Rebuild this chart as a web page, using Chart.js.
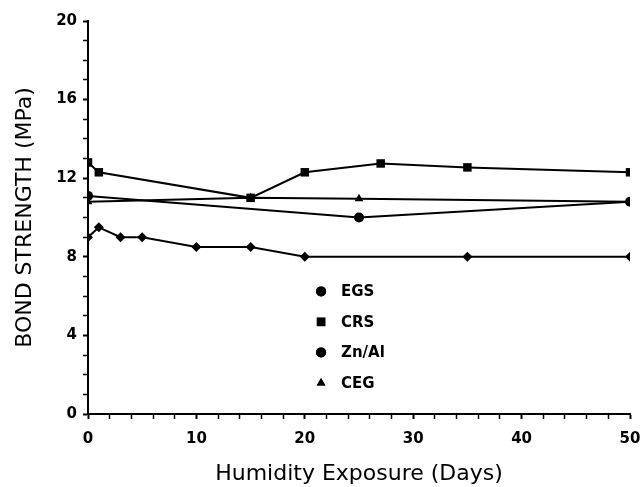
<!DOCTYPE html>
<html>
<head>
<meta charset="utf-8">
<script src="https://cdn.jsdelivr.net/npm/chart.js@4"></script>
<style>
  html, body { margin: 0; padding: 0; background: #fff; }
  #wrap { width: 644px; height: 487px; }
</style>
</head>
<body>
<div id="wrap"><canvas id="bondChart" width="644" height="487"></canvas></div>
<script>
// days of exposure and bond strength (MPa)
const egsDays = [0, 1, 3, 5, 10, 15, 20, 35, 50];
const egsValues = [9.0, 9.5, 9.0, 9.0, 8.5, 8.5, 8.0, 8.0, 8.0];
const crsDays = [0, 1, 15, 20, 27, 35, 50];
const crsValues = [12.8, 12.3, 11.0, 12.3, 12.75, 12.55, 12.3];
const znalDays = [0, 25, 50];
const znalValues = [11.1, 10.0, 10.8];
const cegDays = [0, 15, 25, 50];
const cegValues = [10.8, 11.0, 10.95, 10.8];

const seriesNames = ["EGS", "CRS", "Zn/Al", "CEG"];
const legendStyles = ["circle", "rect", "circle", "triangle"];

function toPoints(xs, ys) {
  return xs.map((x, i) => ({ x, y: ys[i] }));
}

function makeSet(label, xs, ys, style, radius) {
  return {
    label,
    data: toPoints(xs, ys),
    borderColor: "#000",
    backgroundColor: "#000",
    borderWidth: 2,
    pointStyle: style,
    pointRadius: radius,
    pointBorderWidth: 0,
    tension: 0,
  };
}

// legend sits inside the plot, drawn by hand
const insideLegend = {
  id: "insideLegend",
  afterDraw(chart) {
    const { ctx, chartArea } = chart;
    const w = chartArea.right - chartArea.left;
    const h = chartArea.bottom - chartArea.top;
    const mx = chartArea.left + w * 0.43;
    const y0 = chartArea.top + h * 0.688;
    ctx.save();
    ctx.fillStyle = "#000";
    ctx.strokeStyle = "#000";
    ctx.font = "bold 15px 'DejaVu Sans'";
    ctx.textBaseline = "middle";
    seriesNames.forEach((name, i) => {
      const y = y0 + i * 30.5;
      const r = legendStyles[i] === "rect" ? 6 : 5;
      Chart.helpers.drawPoint(ctx, { pointStyle: legendStyles[i], radius: r, borderWidth: 0 }, mx, y);
      ctx.fill();
      ctx.fillText(name, mx + 20, y + 1);
    });
    ctx.restore();
  }
};

const tickFont = { family: "DejaVu Sans", size: 15, weight: "bold" };
const titleFont = { family: "DejaVu Sans", size: 22 };

new Chart(document.getElementById("bondChart"), {
  type: "line",
  data: {
    datasets: [
      makeSet("EGS", egsDays, egsValues, "rectRot", 5),
      makeSet("CRS", crsDays, crsValues, "rect", 6),
      makeSet("Zn/Al", znalDays, znalValues, "circle", 5),
      makeSet("CEG", cegDays, cegValues, "triangle", 5),
    ],
  },
  options: {
    responsive: false,
    animation: false,
    layout: { padding: { left: 0, right: 0, top: 21, bottom: 0 } },
    plugins: {
      legend: { display: false },
      tooltip: { enabled: false },
    },
    scales: {
      x: {
        type: "linear",
        min: 0,
        max: 50,
        afterFit: s => { s.height = 73; s.paddingRight = 14; s.paddingLeft = 0; },
        ticks: {
          stepSize: 2,
          autoSkip: false,
          maxRotation: 0,
          color: "#000",
          font: tickFont,
          padding: 11,
          callback: v => (v % 10 === 0 ? v : ""),
        },
        grid: {
          drawOnChartArea: false,
          tickLength: 5,
          tickColor: "#000",
          tickWidth: c => (c.tick && c.tick.value % 10 === 0 ? 2 : 1.5),
        },
        border: { color: "#000", width: 2 },
        title: {
          display: true,
          text: "Humidity Exposure (Days)",
          color: "#000",
          font: titleFont,
          padding: { top: 4, bottom: 0 },
        },
      },
      y: {
        min: 0,
        max: 20,
        afterFit: s => { s.width = 88; },
        ticks: {
          stepSize: 1,
          autoSkip: false,
          color: "#000",
          font: tickFont,
          padding: 6,
          callback: v => (v % 4 === 0 ? v : ""),
        },
        grid: {
          drawOnChartArea: false,
          tickLength: 5,
          tickColor: "#000",
          tickWidth: c => (c.tick && c.tick.value % 4 === 0 ? 2 : 1.5),
        },
        border: { color: "#000", width: 2 },
        title: {
          display: true,
          text: "BOND STRENGTH (MPa)",
          color: "#000",
          font: titleFont,
          padding: { top: 12, bottom: 0 },
        },
      },
    },
  },
  plugins: [insideLegend],
});
</script>
</body>
</html>
